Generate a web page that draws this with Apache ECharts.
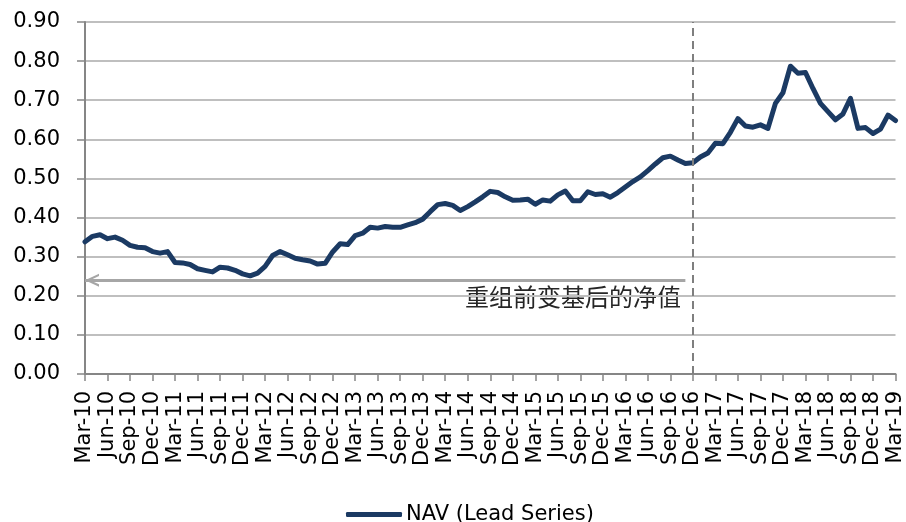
<!DOCTYPE html>
<html>
<head>
<meta charset="utf-8">
<script src="https://cdn.jsdelivr.net/npm/echarts@6/dist/echarts.min.js"></script>
<style>
  html, body { margin: 0; padding: 0; background: #fff; }
  #chart { width: 906px; height: 522px; }
</style>
</head>
<body>
<div id="chart"></div>
<script>
// monthly dates, Mar-10 .. Mar-19
const months = [
  'Mar-10','Apr-10','May-10','Jun-10','Jul-10','Aug-10','Sep-10','Oct-10','Nov-10','Dec-10',
  'Jan-11','Feb-11','Mar-11','Apr-11','May-11','Jun-11','Jul-11','Aug-11','Sep-11','Oct-11','Nov-11','Dec-11',
  'Jan-12','Feb-12','Mar-12','Apr-12','May-12','Jun-12','Jul-12','Aug-12','Sep-12','Oct-12','Nov-12','Dec-12',
  'Jan-13','Feb-13','Mar-13','Apr-13','May-13','Jun-13','Jul-13','Aug-13','Sep-13','Oct-13','Nov-13','Dec-13',
  'Jan-14','Feb-14','Mar-14','Apr-14','May-14','Jun-14','Jul-14','Aug-14','Sep-14','Oct-14','Nov-14','Dec-14',
  'Jan-15','Feb-15','Mar-15','Apr-15','May-15','Jun-15','Jul-15','Aug-15','Sep-15','Oct-15','Nov-15','Dec-15',
  'Jan-16','Feb-16','Mar-16','Apr-16','May-16','Jun-16','Jul-16','Aug-16','Sep-16','Oct-16','Nov-16','Dec-16',
  'Jan-17','Feb-17','Mar-17','Apr-17','May-17','Jun-17','Jul-17','Aug-17','Sep-17','Oct-17','Nov-17','Dec-17',
  'Jan-18','Feb-18','Mar-18','Apr-18','May-18','Jun-18','Jul-18','Aug-18','Sep-18','Oct-18','Nov-18','Dec-18',
  'Jan-19','Feb-19','Mar-19'
];

const nav = [
  0.338, 0.352, 0.356, 0.346, 0.350, 0.342, 0.329, 0.324, 0.323, 0.313,
  0.309, 0.313, 0.285, 0.284, 0.280, 0.269, 0.265, 0.261, 0.273, 0.271, 0.265, 0.256,
  0.251, 0.258, 0.275, 0.303, 0.313, 0.305, 0.296, 0.292, 0.289, 0.281, 0.283, 0.312,
  0.333, 0.331, 0.354, 0.360, 0.375, 0.373, 0.377, 0.375, 0.375, 0.381, 0.387, 0.396,
  0.415, 0.433, 0.436, 0.431, 0.418, 0.428, 0.440, 0.453, 0.467, 0.464, 0.453, 0.444,
  0.445, 0.447, 0.434, 0.445, 0.442, 0.458, 0.468, 0.443, 0.443, 0.466, 0.459, 0.461,
  0.452, 0.464, 0.478, 0.492, 0.504, 0.520, 0.537, 0.553, 0.557, 0.547, 0.538, 0.540,
  0.555, 0.565, 0.590, 0.589, 0.618, 0.653, 0.634, 0.631, 0.637, 0.628, 0.692, 0.719,
  0.787, 0.769, 0.771, 0.730, 0.692, 0.671, 0.650, 0.665, 0.705, 0.628, 0.630, 0.615,
  0.626, 0.662, 0.648
];

const seriesName = 'NAV (Lead Series)';
const noteText = '重组前变基后的净值';
const splitMonth = 'Dec-16';
const arrowFrom = ['Mar-10', 0.24];
const arrowTo = ['Nov-16', 0.24];

const font = 'DejaVu Sans';
// open arrow head, tip at top
const chevron = 'path://M0,14 L6,0 L12,14 L9.8,14 L6,5 L2.2,14 Z';

const chart = echarts.init(document.getElementById('chart'));

chart.setOption({
  animation: false,
  backgroundColor: '#fff',
  grid: { left: 85, right: 8, top: 22, bottom: 148, containLabel: false },
  legend: {
    data: [seriesName],
    left: 341,
    top: 499,
    icon: 'roundRect',
    itemWidth: 56,
    itemHeight: 5,
    itemGap: 4,
    textStyle: { fontFamily: font, fontSize: 21, color: '#000', padding: [0, 0, 0, -1] }
  },
  xAxis: {
    type: 'category',
    data: months,
    boundaryGap: false,
    axisLine: { lineStyle: { color: '#868686', width: 2 } },
    axisTick: { show: true, interval: 2, length: 7, lineStyle: { color: '#868686', width: 1.5 } },
    axisLabel: {
      interval: 2,
      rotate: 90,
      margin: 17,
      fontFamily: font,
      fontSize: 21,
      color: '#000'
    },
    splitLine: { show: false }
  },
  yAxis: {
    type: 'value',
    min: 0,
    max: 0.9,
    interval: 0.1,
    axisLine: { show: true, lineStyle: { color: '#868686', width: 2 } },
    axisTick: { show: true, length: 8, lineStyle: { color: '#868686', width: 1.5 } },
    axisLabel: {
      margin: 25,
      fontFamily: font,
      fontSize: 21,
      color: '#000',
      formatter: v => v.toFixed(2)
    },
    splitLine: { lineStyle: { color: '#bfbfbf', width: 2 } }
  },
  series: [
    {
      name: seriesName,
      type: 'line',
      data: nav,
      showSymbol: false,
      symbol: 'none',
      color: '#1b3a63',
      lineStyle: { color: '#1b3a63', width: 5, join: 'round', cap: 'round' },
      emphasis: { disabled: true },
      markLine: {
        silent: true,
        symbol: ['none', 'none'],
        symbolOffset: [[0, 7], 0],
        label: { show: false },
        emphasis: { disabled: true },
        data: [
          {
            xAxis: splitMonth,
            lineStyle: { color: '#7f7f7f', width: 2, type: [8, 5] }
          },
          [
            {
              coord: arrowFrom,
              symbol: chevron,
              symbolSize: [13, 14],
              lineStyle: { color: '#a6a6a6', width: 3, type: 'solid' },
              itemStyle: { color: '#a6a6a6' }
            },
            { coord: arrowTo, symbol: 'none' }
          ]
        ]
      }
    }
  ],
  graphic: [
    {
      type: 'text',
      left: 465,
      top: 285,
      silent: true,
      style: {
        text: noteText,
        fontFamily: '"Noto Sans CJK SC"',
        fontSize: 24,
        fill: '#262626'
      }
    }
  ]
});
</script>
</body>
</html>
